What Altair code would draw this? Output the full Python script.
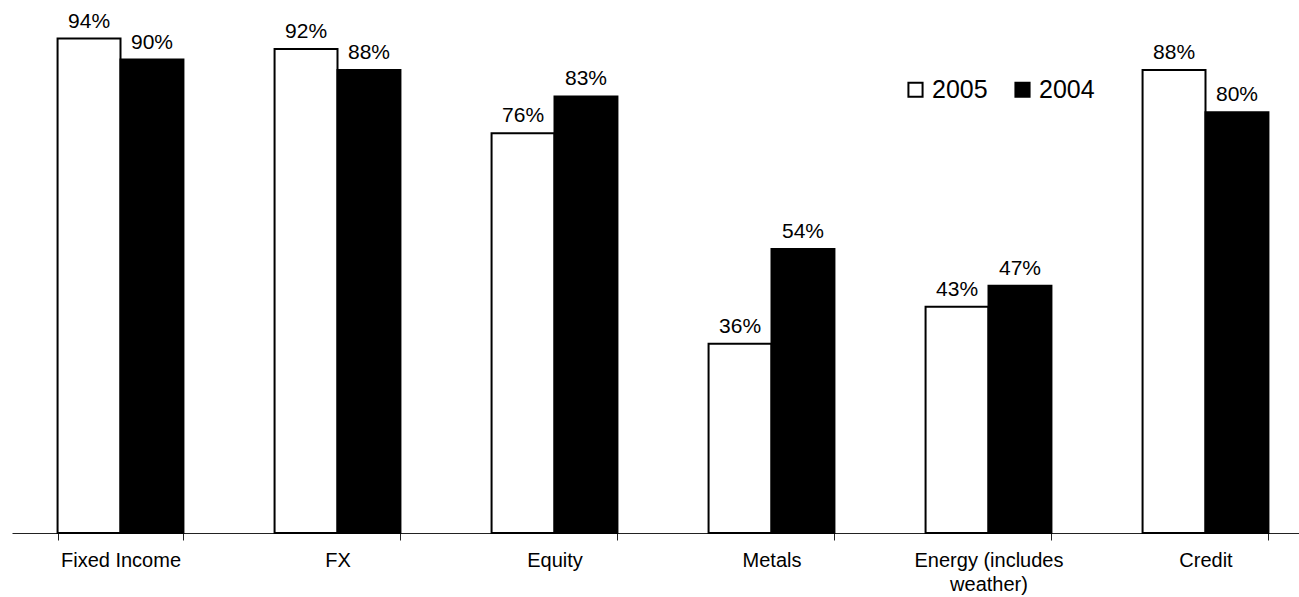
import altair as alt
import pandas as pd

# Share of respondents by market segment, two survey years
categories = ["Fixed Income", "FX", "Equity", "Metals", "Energy (includes\nweather)", "Credit"]
years = ["2005", "2004"]
share_2005 = [94, 92, 76, 36, 43, 88]
share_2004 = [90, 88, 83, 54, 47, 80]

rows = []
for cat, v05, v04 in zip(categories, share_2005, share_2004):
    rows.append({"category": cat, "year": "2005", "value": v05})
    rows.append({"category": cat, "year": "2004", "value": v04})
df = pd.DataFrame(rows)
df["label"] = df["value"].astype(str) + "%"

FONT = "Liberation Sans"

base = alt.Chart(df).encode(
    x=alt.X(
        "category:N",
        sort=categories,
        scale=alt.Scale(range=[0, 1302], paddingInner=0.42, paddingOuter=0.21),
        axis=alt.Axis(
            title=None,
            labelAngle=0,
            tickBand="extent",
            labelExpr="split(datum.label, '\\n')",
            labelFont=FONT,
            labelFontSize=20,
            labelColor="black",
            labelLineHeight=24,
            labelPadding=10,
            tickSize=7,
            tickColor="#222",
            domainColor="#222",
            labelBaseline="top",
        ),
    ),
    xOffset=alt.XOffset("year:N", sort=years, scale=alt.Scale(paddingInner=0, paddingOuter=0)),
    y=alt.Y("value:Q", scale=alt.Scale(domain=[0, 100]), axis=None),
)

bars = base.mark_bar(stroke="black", strokeWidth=2).encode(
    color=alt.Color(
        "year:N",
        sort=years,
        scale=alt.Scale(domain=years, range=["white", "black"]),
        legend=alt.Legend(
            title=None,
            orient="none",
            legendX=891,
            legendY=70,
            direction="horizontal",
            symbolType="square",
            symbolSize=200,
            symbolStrokeColor="black",
            symbolStrokeWidth=2,
            symbolOpacity=1,
            labelFont=FONT,
            labelFontSize=25,
            labelColor="black",
            labelOffset=4,
            columnPadding=22,
            padding=0,
        ),
    )
)

text = base.mark_text(
    baseline="bottom", dy=-7, font=FONT, fontSize=21, color="black"
).encode(text="label:N")

chart = (
    alt.layer(bars, text)
    .properties(
        width=1287,
        height=526,
        autosize=alt.AutoSizeParams(type="none"),
        padding={"left": 12, "top": 7, "right": 0, "bottom": 64},
        background="white",
    )
    .configure_view(stroke=None)
)

chart.save("out.html", embed_options={"renderer": "svg", "actions": False})
